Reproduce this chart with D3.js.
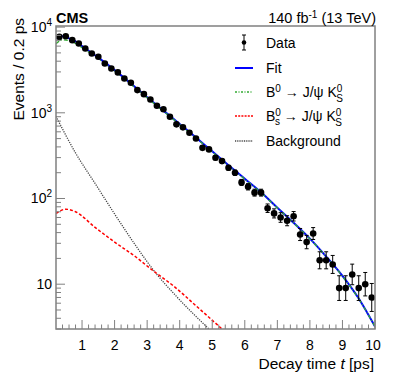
<!DOCTYPE html>
<html>
<head>
<meta charset="utf-8">
<script src="https://cdn.jsdelivr.net/npm/d3@7"></script>
<style>
  body { margin: 0; background: #fff; }
  text { font-family: "Liberation Sans", Arial, sans-serif; fill: #000; }
</style>
</head>
<body>
<div id="vis-container"></div>
<script>
// Data: bin centres (ps) and event counts per 0.2 ps
var binCenters = [0.3,0.5,0.7,0.9,1.1,1.3,1.5,1.7,1.9,2.1,2.3,2.5,2.7,2.9,3.1,3.3,3.5,3.7,3.9,4.1,
                  4.3,4.5,4.7,4.9,5.1,5.3,5.5,5.7,5.9,6.1,6.3,6.5,6.7,6.9,7.1,7.3,7.5,7.7,7.9,8.1,
                  8.3,8.5,8.7,8.9,9.1,9.3,9.5,9.7,9.9]
var counts = [7690,7830,7040,6440,5630,4920,4500,3760,3290,2960,2510,2240,1840,1650,1430,1210,1100,898,733,676,
              585,502,390,374,299,273,228,200,154,137,117,117,77,67,60,55,62,38,31,39,
              19,19,17,9,9,13,9,10,7]

// Fit components
var fitT   = [0.2,0.4,0.6,0.8,1.0,1.5,2.0,2.5,3.0,3.5,4.0,4.5,5.0,5.5,6.0,6.5,7.0,7.5,8.0,8.5,9.0,9.5,10]
var fitVal = [7400,7800,7400,6800,6000,4400,3150,2200,1520,1060,740,515,355,245,170,118,78,52,34,21,12.5,6.8,3.2]
var b0T    = [0.2,0.4,0.6,0.8,1.0,1.5,2.0,2.5,3.0,3.5,4.0,4.5,5.0,5.5,6.0,6.5,7.0,7.5,8.0,8.5,9.0,9.5,10]
var b0Val  = [6400,7100,6950,6450,5750,4270,3080,2160,1495,1045,730,508,350,242,168,117,77.5,51.7,33.8,20.9,12.4,6.75,3.2]
var bsT    = [0.2,0.5,0.8,1.4,2.0,2.6,3.2,3.8,4.5,5.3]
var bsVal  = [67,75,70,46,31,21.5,14.2,9.6,5.6,3.0]
var bkgT   = [0.2,0.8,1.4,2.0,2.6,3.2,3.9,4.9]
var bkgVal = [910,340,150,66,30,14.5,7.2,3.0]

var xTicks = [1,2,3,4,5,6,7,8,9,10]
var yTicks = [10,100,1000,10000]

var W = 399, H = 383
var pLeft = 56, pRight = 375, pTop = 26, pBottom = 329
var frameColor = '#808080'

var svg = d3.select('#vis-container').append('svg')
    .attr('width', W)
    .attr('height', H)

var xScale = d3.scaleLinear().domain([0.2, 10]).range([pLeft, pRight])
var yScale = d3.scaleLog().domain([3, 10300]).range([pBottom, pTop])

// clip for curves
svg.append('clipPath').attr('id', 'plot-clip')
  .append('rect')
    .attr('x', pLeft).attr('y', pTop)
    .attr('width', pRight - pLeft).attr('height', pBottom - pTop)

var plot = svg.append('g').attr('clip-path', 'url(#plot-clip)')

function curve(ts, vs) {
  return d3.line()
    .x(function (d) { return xScale(d[0]) })
    .y(function (d) { return yScale(d[1]) })
    .curve(d3.curveMonotoneX)(ts.map(function (t, i) { return [t, vs[i]] }))
}

plot.append('path').attr('d', curve(bkgT, bkgVal))
  .attr('fill', 'none').attr('stroke', '#444').attr('stroke-width', 1.3)
  .attr('stroke-dasharray', '1.2,1.2')
plot.append('path').attr('d', curve(bsT, bsVal))
  .attr('fill', 'none').attr('stroke', '#ff0000').attr('stroke-width', 1.5)
  .attr('stroke-dasharray', '3,2')
plot.append('path').attr('d', curve(fitT, fitVal))
  .attr('fill', 'none').attr('stroke', '#0000ff').attr('stroke-width', 2)
plot.append('path').attr('d', curve(b0T, b0Val))
  .attr('fill', 'none').attr('stroke', '#33aa33').attr('stroke-width', 1.3)
  .attr('stroke-dasharray', '4,2,1,2')

// Data points with Poisson errors
var points = binCenters.map(function (t, i) {
  var n = counts[i]
  var s = Math.sqrt(n + 0.25)
  return { t: t, n: n, lo: n - (s - 0.5), hi: n + (s + 0.5) }
})
var pts = plot.append('g')
pts.selectAll('line.err')
    .data(points)
    .enter()
  .append('line')
    .attr('class', 'err')
    .attr('x1', function (d) { return xScale(d.t) })
    .attr('x2', function (d) { return xScale(d.t) })
    .attr('y1', function (d) { return yScale(d.lo) })
    .attr('y2', function (d) { return yScale(d.hi) })
    .attr('stroke', '#000').attr('stroke-width', 1)
;['lo', 'hi'].forEach(function (k) {
  pts.selectAll('line.cap-' + k)
      .data(points)
      .enter()
    .append('line')
      .attr('class', 'cap-' + k)
      .attr('x1', function (d) { return xScale(d.t) - 2 })
      .attr('x2', function (d) { return xScale(d.t) + 2 })
      .attr('y1', function (d) { return yScale(d[k]) })
      .attr('y2', function (d) { return yScale(d[k]) })
      .attr('stroke', '#000').attr('stroke-width', 1)
})
pts.selectAll('circle')
    .data(points)
    .enter()
  .append('circle')
    .attr('cx', function (d) { return xScale(d.t) })
    .attr('cy', function (d) { return yScale(d.n) })
    .attr('r', 3.3)
    .attr('fill', '#000')

// Frame
svg.append('rect')
    .attr('x', pLeft).attr('y', pTop)
    .attr('width', pRight - pLeft).attr('height', pBottom - pTop)
    .attr('fill', 'none').attr('stroke', frameColor).attr('stroke-width', 1.5)

// X ticks (inside)
var xMinor = d3.range(0.4, 10.0001, 0.2).filter(function (v) { return Math.abs(v - Math.round(v)) > 0.01 })
svg.selectAll('line.xminor').data(xMinor).enter().append('line')
    .attr('x1', function (d) { return xScale(d) }).attr('x2', function (d) { return xScale(d) })
    .attr('y1', pBottom).attr('y2', pBottom - 4.5)
    .attr('stroke', frameColor).attr('stroke-width', 1)
svg.selectAll('line.xmajor').data(xTicks).enter().append('line')
    .attr('x1', function (d) { return xScale(d) }).attr('x2', function (d) { return xScale(d) })
    .attr('y1', pBottom).attr('y2', pBottom - 9)
    .attr('stroke', frameColor).attr('stroke-width', 1)
svg.selectAll('text.xlab').data(xTicks).enter().append('text')
    .attr('x', function (d) { return xScale(d) - (d == 10 ? 2 : 0) })
    .attr('y', 349.5)
    .attr('text-anchor', 'middle')
    .style('font-size', '14px')
    .text(function (d) { return d })

// Y ticks (inside)
var yMinor = []
;[1, 10, 100, 1000].forEach(function (dec) {
  for (var m = 2; m <= 9; m++) {
    var v = m * dec
    if (v >= 3 && v <= 10300) yMinor.push(v)
  }
})
svg.selectAll('line.yminor').data(yMinor).enter().append('line')
    .attr('x1', pLeft).attr('x2', pLeft + 5)
    .attr('y1', function (d) { return yScale(d) }).attr('y2', function (d) { return yScale(d) })
    .attr('stroke', frameColor).attr('stroke-width', 1)
svg.selectAll('line.ymajor').data(yTicks).enter().append('line')
    .attr('x1', pLeft).attr('x2', pLeft + 9)
    .attr('y1', function (d) { return yScale(d) }).attr('y2', function (d) { return yScale(d) })
    .attr('stroke', frameColor).attr('stroke-width', 1)

var ylab = svg.selectAll('text.ylab').data(yTicks).enter().append('text')
    .attr('x', 52)
    .attr('y', function (d) { return yScale(d) + 5 })
    .attr('text-anchor', 'end')
    .style('font-size', '14px')
ylab.each(function (d) {
  var t = d3.select(this)
  if (d == 10) { t.text('10'); return }
  t.append('tspan').text('10')
  t.append('tspan').attr('dy', -6).style('font-size', '10px').text(Math.round(Math.log10(d)))
})

// Axis titles
svg.append('text')
    .attr('x', 374).attr('y', 368.5)
    .attr('text-anchor', 'end')
    .style('font-size', '15.5px')
    .html('Decay time <tspan font-style="italic">t</tspan> [ps]')
svg.append('text')
    .attr('transform', 'translate(24,18) rotate(-90)')
    .attr('text-anchor', 'end')
    .style('font-size', '15.5px')
    .text('Events / 0.2 ps')

// Header
svg.append('text')
    .attr('x', 56).attr('y', 23)
    .style('font-size', '14.5px').style('font-weight', 'bold')
    .text('CMS')
var lumi = svg.append('text')
    .attr('x', 376).attr('y', 23)
    .attr('text-anchor', 'end')
    .style('font-size', '14.5px')
lumi.append('tspan').text('140 fb')
lumi.append('tspan').attr('dy', -5).style('font-size', '10px').text('-1')
lumi.append('tspan').attr('dy', 5).text(' (13 TeV)')

// Legend
var legX1 = 235, legX2 = 253, legText = 266, legFont = '14px'
var leg = svg.append('g')
// Data
leg.append('line').attr('x1', 244).attr('x2', 244).attr('y1', 35).attr('y2', 50).attr('stroke', '#000')
leg.append('line').attr('x1', 242).attr('x2', 246).attr('y1', 35).attr('y2', 35).attr('stroke', '#000')
leg.append('line').attr('x1', 242).attr('x2', 246).attr('y1', 50).attr('y2', 50).attr('stroke', '#000')
leg.append('circle').attr('cx', 244).attr('cy', 42.5).attr('r', 2.3).attr('fill', '#000')
leg.append('text').attr('x', legText).attr('y', 48).style('font-size', legFont).text('Data')
// Fit
leg.append('line').attr('x1', legX1).attr('x2', legX2).attr('y1', 68).attr('y2', 68)
  .attr('stroke', '#0000ff').attr('stroke-width', 2)
leg.append('text').attr('x', legText).attr('y', 73).style('font-size', legFont).text('Fit')
// B0
leg.append('line').attr('x1', legX1).attr('x2', legX2).attr('y1', 92).attr('y2', 92)
  .attr('stroke', '#33aa33').attr('stroke-width', 1.3).attr('stroke-dasharray', '2,1.5,1,1.5')
var tb0 = leg.append('text').attr('x', legText).attr('y', 97).style('font-size', legFont)
tb0.append('tspan').text('B')
tb0.append('tspan').attr('dy', -5).style('font-size', '10px').text('0')
tb0.append('tspan').attr('dy', 5).text(' \u2192 J/\u03c8 K')
tb0.append('tspan').attr('dy', -5).style('font-size', '10px').text('0')
tb0.append('tspan').attr('dx', -6).attr('dy', 10).style('font-size', '10px').text('S')
// Bs
leg.append('line').attr('x1', legX1).attr('x2', legX2).attr('y1', 116).attr('y2', 116)
  .attr('stroke', '#ff0000').attr('stroke-width', 1.5).attr('stroke-dasharray', '2,1.2')
var tbs = leg.append('text').attr('x', legText).attr('y', 121).style('font-size', legFont)
tbs.append('tspan').text('B')
tbs.append('tspan').attr('dy', -5).style('font-size', '10px').text('0')
tbs.append('tspan').attr('dx', -6).attr('dy', 9).style('font-size', '10px').text('s')
tbs.append('tspan').attr('dy', -4).text(' \u2192 J/\u03c8 K')
tbs.append('tspan').attr('dy', -5).style('font-size', '10px').text('0')
tbs.append('tspan').attr('dx', -6).attr('dy', 10).style('font-size', '10px').text('S')
// Background
leg.append('line').attr('x1', legX1).attr('x2', legX2).attr('y1', 141).attr('y2', 141)
  .attr('stroke', '#444').attr('stroke-width', 1.3).attr('stroke-dasharray', '1,0.8')
leg.append('text').attr('x', legText).attr('y', 146).style('font-size', legFont).text('Background')
</script>
</body>
</html>
